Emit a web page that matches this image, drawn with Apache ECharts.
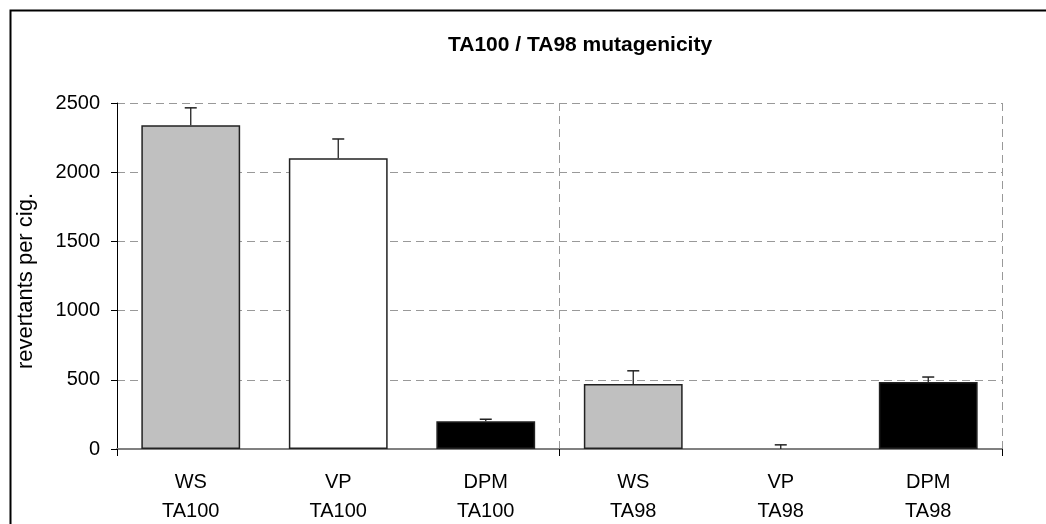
<!DOCTYPE html>
<html>
<head>
  <meta charset="utf-8">
  <title>TA100 / TA98 mutagenicity</title>
  <script src="https://cdn.jsdelivr.net/npm/echarts@6.0.0/dist/echarts.min.js"></script>
  <style>
    html, body { margin: 0; padding: 0; background: #fff; }
  </style>
</head>
<body>
  <div id="main" style="width: 1046px; height: 524px;"></div>

  <script>
    // data
    var categories = ['WS\nTA100', 'VP\nTA100', 'DPM\nTA100', 'WS\nTA98', 'VP\nTA98', 'DPM\nTA98'];
    var values = [2340, 2100, 200, 470, 0, 485];
    var errors = [125, 140, 15, 95, 30, 35];
    var barColors = ['#c0c0c0', '#ffffff', '#000000', '#c0c0c0', '#ffffff', '#000000'];

    var yTicks = { min: 0, max: 2500, interval: 500 };

    var FONT = '"Liberation Sans", Arial, sans-serif';

    var chartDom = document.getElementById('main');
    var myChart = echarts.init(chartDom, null, { renderer: 'canvas' });

    var barData = values.map(function (v, i) {
      return {
        value: v,
        // an empty bar leaves only the axis line visible
        itemStyle: { color: barColors[i], borderWidth: v === 0 ? 0 : 1.5 }
      };
    });

    var errData = values.map(function (v, i) {
      return [i, v, v + errors[i]];
    });

    // every third boundary gets a tick / split line
    function everyThird(i) { return i % 3 === 0; }

    var option = {
      animation: false,
      backgroundColor: '#ffffff',
      title: {
        text: 'TA100 / TA98 mutagenicity',
        left: 443,
        top: 30,
        textStyle: { fontFamily: FONT, fontSize: 21, fontWeight: 'bold', color: '#000' }
      },
      graphic: [
        {
          type: 'rect',
          left: 8, top: 8,
          shape: { width: 1060, height: 540 },
          style: { fill: null, stroke: '#000', lineWidth: 2 },
          silent: true,
          z: -1
        }
      ],
      grid: { left: 117, right: 44, top: 103, bottom: 75, outerBoundsMode: 'none' },
      xAxis: {
        type: 'category',
        data: categories,
        boundaryGap: true,
        axisLine: { lineStyle: { color: '#808080', width: 2 } },
        axisTick: { show: true, interval: everyThird, length: 7, lineStyle: { color: '#000', width: 1 } },
        axisLabel: {
          interval: 0,
          margin: 19,
          fontFamily: FONT,
          fontSize: 20,
          lineHeight: 29,
          color: '#000'
        },
        splitLine: {
          show: true,
          interval: everyThird,
          lineStyle: { color: '#999', type: [8, 5], width: 1 }
        }
      },
      yAxis: {
        type: 'value',
        min: yTicks.min,
        max: yTicks.max,
        interval: yTicks.interval,
        name: 'revertants per cig.',
        nameLocation: 'middle',
        nameGap: 80,
        nameTextStyle: { fontFamily: FONT, fontSize: 22, color: '#000', padding: [0, 0, 0, -10] },
        axisLine: { show: true, onZero: false, lineStyle: { color: '#000', width: 1 } },
        axisTick: { show: true, length: 6, lineStyle: { color: '#000' } },
        axisLabel: {
          margin: 17,
          fontFamily: FONT,
          fontSize: 20,
          color: '#000',
          formatter: function (v) { return String(v); }
        },
        splitLine: { show: true, lineStyle: { color: '#999', type: [8, 5], width: 1 } }
      },
      series: [
        {
          name: 'mean',
          type: 'bar',
          data: barData,
          barWidth: '67%',
          itemStyle: { borderColor: '#222', borderWidth: 1.5 },
          z: 3
        },
        {
          name: 'error',
          type: 'custom',
          data: errData,
          z: 4,
          renderItem: function (params, api) {
            var x = api.value(0);
            var lo = api.coord([x, api.value(1)]);
            var hi = api.coord([x, api.value(2)]);
            var half = 6;
            return {
              type: 'group',
              children: [
                {
                  type: 'line',
                  shape: { x1: lo[0], y1: lo[1], x2: hi[0], y2: hi[1] },
                  style: { stroke: '#222', lineWidth: 1.3 }
                },
                {
                  type: 'line',
                  shape: { x1: hi[0] - half, y1: hi[1], x2: hi[0] + half, y2: hi[1] },
                  style: { stroke: '#222', lineWidth: 1.5 }
                }
              ]
            };
          }
        }
      ]
    };

    myChart.setOption(option);
  </script>
</body>
</html>
